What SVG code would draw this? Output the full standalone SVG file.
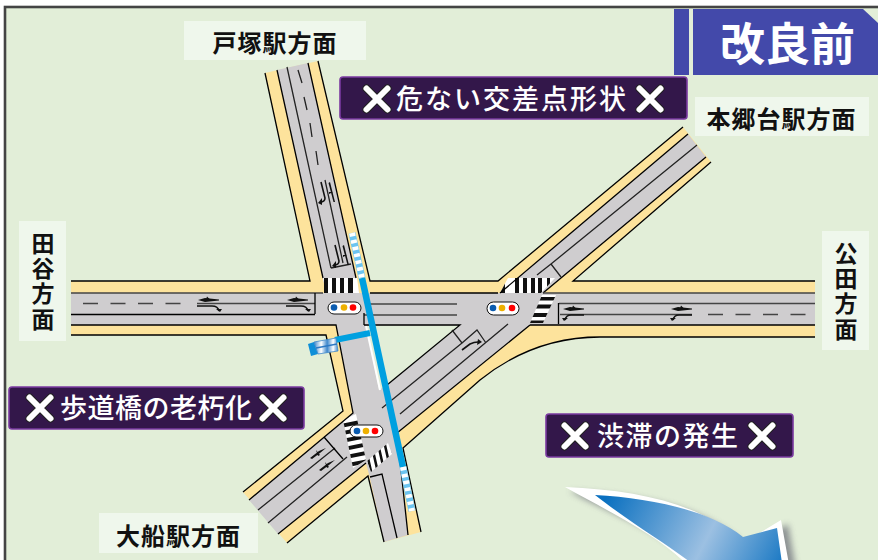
<svg xmlns="http://www.w3.org/2000/svg" width="878" height="560" viewBox="0 0 878 560">
<style>
.t{font-family:"Noto Sans CJK JP","Noto Sans",sans-serif}
.lb{fill:#eff7ec}
.lt{font-size:24px;font-weight:700;fill:#111;text-anchor:middle}
.lv{font-size:23px;font-weight:700;fill:#111;writing-mode:vertical-rl;letter-spacing:2.3px}
.pl{fill:#33174a;stroke:#7a3aa0;stroke-width:1.6}
.pt{font-size:27px;font-weight:500;fill:#fff}
.xo{stroke:#222;stroke-width:8;stroke-linecap:round;fill:none}
.xi{stroke:#fff;stroke-width:6;stroke-linecap:round;fill:none}
.e{fill:none;stroke:#000;stroke-width:1.3}
.l{fill:none;stroke:#222;stroke-width:1.3}
.g{fill:none;stroke:#444;stroke-width:1.3}
.m{fill:none;stroke:#111;stroke-width:1.6}
.k{fill:#111}
.pill{fill:#fff;stroke:#111;stroke-width:1}
.bb{fill:none;stroke:#00a0e0;stroke-width:6.500}
</style>
<defs>
<linearGradient id="ag" gradientUnits="userSpaceOnUse" x1="610" y1="490" x2="785" y2="580">
<stop offset="0" stop-color="#0a70c0"/><stop offset=".55" stop-color="#9cc0e2"/><stop offset="1" stop-color="#0a70c0"/>
</linearGradient>
<linearGradient id="sg" x1="0" y1="0" x2="1" y2="0">
<stop offset="0" stop-color="#3f88cc"/><stop offset=".3" stop-color="#fff"/><stop offset=".55" stop-color="#3f88cc"/><stop offset=".8" stop-color="#fff"/><stop offset="1" stop-color="#3f88cc"/>
</linearGradient>
<filter id="sh" x="-10%" y="-10%" width="130%" height="130%"><feGaussianBlur stdDeviation="3"/></filter>
<clipPath id="c1"><polygon points="508,278 555,278 541,293 500,293"/></clipPath>
<clipPath id="c2"><polygon points="542,295 556,295 543,323 530,323"/></clipPath>
<clipPath id="c3"><polygon points="343,420 356,414 366,460 353,468"/></clipPath>
<clipPath id="c4"><polygon points="367,461 388,443 392,454 371,472"/></clipPath>
<g id="xm"><path class="xo" d="M-10.5-10.5 10.5 10.5M10.5-10.5-10.5 10.5"/><path class="xi" d="M-10.5-10.5 10.5 10.5M10.5-10.5-10.5 10.5"/></g>
<g id="ar"><path class="k" d="M0 0 7-2 21-.6V.6L7 2Z"/><path class="k" d="M9-3.5 12-.5H8Z"/><path class="m" d="M-1 6H14Q20 6 21 11"/><path class="k" d="M18 9 24 9 22 12Z"/></g>
<g id="ae"><path class="k" d="M0 0 7-2 21-.6V.6L7 2Z"/><path class="k" d="M10-3.5 13-.5H9Z"/><path class="m" d="M21 6H8Q3 6 2 11"/><path class="k" d="M5 9-1 9 1 12Z"/></g>
<g id="an"><path class="m" stroke-width="1.800" d="M3 0 7 16Q7 20 2 20"/><path class="k" d="M4 16 0 21 4 23Z"/><path class="k" d="M12 0 17 20 15.500 20 10.500 1Z"/><path class="k" d="M15 10 11 12 11 10Z"/></g>
</defs>
<rect width="878" height="560" fill="#fff"/>
<rect x="5" y="7" width="880" height="560" fill="#e2eed8" stroke="#444" stroke-width="2.6"/>

<g id="road">
<path fill="#fde39c" d="M265 73 318 61 370 281H498L683 127 711 162 573 281H815V337H600C560 337 520 348 480 380L403 448 421 532 384 542 368 476 287 543 243 492 343 411 326 335H71V281H310Z"/>
<path fill="#cfcdcf" d="M277 70 308 63 359 293H500L688 134 706 157 543 293H815V325H530L397 433 408 535 384 542 370 478 366 463 278 534 249 500 353 413 336 325H71V293H326Z"/>
<polygon points="366,325.500 460,325.500 387,385 379,390" fill="#e2eed8"/>
<path d="M366 326 380 390" stroke="#fff" stroke-width="2" fill="none"/>
<polygon points="323,278 357,278 359,293 326,293" fill="#fff"/>
<polygon points="508,278 555,278 541,293 500,293" fill="#fff"/>
<polygon points="542,295 556,295 543,323 530,323" fill="#fff"/>
<polygon points="343,420 356,414 366,460 353,468" fill="#fff"/>
<polygon points="367,461 388,443 392,454 371,472" fill="#fff"/>
<path class="k" d="M324 278h4v15h-4zM332 278h4v15h-4zM340 278h4v15h-4zM348 278h5v15h-5z"/>
<g clip-path="url(#c1)"><path class="k" d="M501 278h4v15h-4zM515 278h4v15h-4zM523 278h4v15h-4zM531 278h4v15h-4zM538 278h4v15h-4zM547 278h3v15h-3z"/></g>
<g clip-path="url(#c2)"><path class="k" d="M530 297h30v3.500h-30zM530 304.500h30v4h-30zM530 313h30v4h-30zM530 320.500h30v3h-30z"/></g>
<g clip-path="url(#c3)"><path class="k" d="M340 424l25-5v4l-25 5zM340 431.500l25-5v4l-25 5zM342 439l25-5v4l-25 5zM344 447l25-5v4l-25 5zM346 455l25-5v4l-25 5zM348 463l25-5v4l-25 5zM350 471l25-5v4l-25 5z"/></g>
<g clip-path="url(#c4)"><path class="k" d="M366 455l5 22 2.500-.5-5-22zM371.500 450l5 22 2.500-.5-5-22zM377 445l5 22 2.500-.5-5-22zM382.500 440l5 22 2.500-.5-5-22zM388 436l5 22 2.500-.5-5-22z"/></g>
</g>

<g id="connectors">
<path class="e" d="M265 73 310 281H71M71 335H326L343 411 243 492M318 61 370 281H498L683 127M711 162 573 281H815M815 337H600C560 337 520 348 480 380L403 448 421 532M287 543 368 476 384 542"/>
<path class="e" d="M277 70 323 278M308 63 356 278M71 325H336L353 413 249 500M278 534 366 463M688 134 500 293M706 157 543 293M530 325H815M530 325 397 433 408 535M370 293H498M364 325H460L387 385M71 314.500H315"/>
<path class="g" d="M71 293H323M543 293H815M197 303.500H315M559 303.500H815M560 314.500H692M370 304H457M364 315H457"/>
<path class="g" stroke-dasharray="15 12.500" d="M83 303.500H182M708 314.500H806"/>
<path class="l" d="M287 67 331 268M298 70 302 83M304 97 307 110M310 123 312 137M316 151 318 165M325 180 343 263M331 268 351 264"/>
<path class="e" d="M315 293V314M364 313V325M558.500 303V324"/>
<path class="l" d="M697 145 551 264 537 275M551 264 561 277"/>
<path class="l" d="M452 330 462 343 477 330 486 343M462 343 382 408M400 414 508 324"/>
<path class="l" d="M258 510 335 448M268 523 347 457"/>
<path class="e" d="M324 437 343 459M370 477 382 474 397 538"/>
</g>

<g id="marks">
<use href="#ar" x="198" y="300"/><use href="#ar" x="287" y="300"/>
<use href="#ae" x="563" y="309"/><use href="#ae" x="671" y="309"/>
<path class="m" stroke-width="2.200" d="M462 350 470 344Q474 342 478 342"/><path class="k" d="M478 339 482 342 477 345Z"/>
<path class="k" d="M310 458 319 451 326 448 320 453 312 459ZM316 450 320 455 318 456ZM319 470 328 463 335 460 329 465 321 471ZM325 462 329 467 327 468Z"/>
<use href="#an" x="318" y="182"/><use href="#an" x="332" y="245"/>
</g>

<g id="signal-1"><rect class="pill" x="328" y="302" width="33" height="12" rx="6"/><circle cx="334" cy="307.500" r="3.300" fill="#0b5cb0"/><circle cx="344" cy="307.500" r="3.300" fill="#eeb000"/><circle cx="353" cy="307.500" r="3.300" fill="#f00"/></g>
<g id="signal-2"><rect class="pill" x="487" y="302" width="32" height="13" rx="6.500"/><circle cx="493" cy="308" r="3.300" fill="#0b5cb0"/><circle cx="502" cy="308" r="3.300" fill="#eeb000"/><circle cx="512" cy="308" r="3.300" fill="#f00"/></g>
<g id="signal-3"><rect class="pill" x="350" y="425" width="33" height="12" rx="6"/><circle cx="357" cy="431" r="3.300" fill="#0b5cb0"/><circle cx="366" cy="431" r="3.300" fill="#eeb000"/><circle cx="375" cy="431" r="3.300" fill="#f00"/></g>

<g id="footbridge">
<path class="bb" d="M362 278 403 467"/>
<path d="M370 333 335 340" stroke="#00a0e0" stroke-width="6" fill="none"/>
<path d="M352 233 362 278M403 467 412 511" stroke="#6cc4f0" stroke-width="7" fill="none"/>
<path d="M352 233 362 278M403 467 412 511" stroke="#fff" stroke-width="6" stroke-dasharray="3.500 3.500" fill="none"/>
<polygon points="308,344 314,342 318,354 311,356" fill="#0e8fd8"/>
<polygon points="314,342 336,338 338,351 318,354" fill="url(#sg)" stroke="#3f88cc" stroke-width=".8"/>
<path d="M316 348 337 344" stroke="#2c79c4" stroke-width="1.300"/>
</g>

<g id="arrow">
<path filter="url(#sh)" fill="#556" opacity=".6" d="M569 491C640 495 705 505 747 547L788 524 796 570H700C670 535 625 520 569 491Z"/>
<path fill="#fff" d="M565 487C640 490 705 505 743 543L781 520 790 570H692C665 540 625 520 565 487Z"/>
<path fill="url(#ag)" d="M595 495C650 498 710 510 743 537L777 528 783 570H700C670 545 640 530 595 495Z"/>
</g>

<g id="title">
<rect x="674" y="9" width="15" height="66" fill="#4349aa"/>
<path fill="#4349aa" d="M693 9H863L878 23V75H693Z"/>
<text class="t" x="787.500" y="61" font-size="45" font-weight="700" fill="#fff" text-anchor="middle">改良前</text>
</g>

<g id="label-totsuka"><rect class="lb" x="184" y="21" width="182" height="39"/><text class="t lt" x="275" y="52" letter-spacing="1">戸塚駅方面</text></g>
<g id="label-hongodai"><rect class="lb" x="695" y="97" width="174" height="39"/><text class="t lt" x="781.500" y="128" letter-spacing="1">本郷台駅方面</text></g>
<g id="label-ofuna"><rect class="lb" x="99" y="513" width="159" height="40"/><text class="t lt" x="178.500" y="545" letter-spacing="1">大船駅方面</text></g>
<g id="label-taya"><rect class="lb" x="19" y="221" width="47" height="120"/><text class="t lv" x="43" y="231.500">田谷方面</text></g>
<g id="label-kuden"><rect class="lb" x="822" y="231" width="47" height="119"/><text class="t lv" x="846" y="241.500">公田方面</text></g>

<g id="issue-1"><rect class="pl" x="340" y="77" width="347" height="42" rx="3"/><use href="#xm" x="377" y="99"/><text class="t pt" x="396" y="109" font-weight="700" letter-spacing="2">危ない交差点形状</text><use href="#xm" x="650" y="99"/></g>
<g id="issue-2"><rect class="pl" x="9" y="387" width="295" height="42" rx="3"/><use href="#xm" x="40" y="408"/><text class="t pt" x="60" y="418" letter-spacing=".5">歩道橋の老朽化</text><use href="#xm" x="273" y="408"/></g>
<g id="issue-3"><rect class="pl" x="546" y="414" width="247" height="43" rx="3"/><use href="#xm" x="575" y="436"/><text class="t pt" x="597" y="446" letter-spacing="1.500">渋滞の発生</text><use href="#xm" x="762" y="436"/></g>
</svg>
